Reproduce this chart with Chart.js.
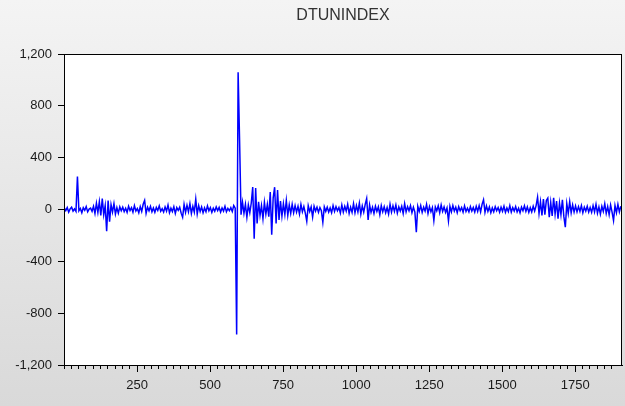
<!DOCTYPE html>
<html>
<head>
<meta charset="utf-8">
<script src="https://cdn.jsdelivr.net/npm/chart.js@4.4.1/dist/chart.umd.min.js"></script>
<style>
body{margin:0;background:#f0f0f0;}
canvas{display:block;}
</style>
</head>
<body>
<canvas id="dtChart" width="625" height="406"></canvas>
<script>
const chartTitle = "DTUNINDEX";

// observations: first obs and spacing between the read-off values
const firstObs = 1;
const obsStep = 5;

const dtunindex = [
12,-8,15,-20,5,18,-12,4,-15,255,-10,8,-25,14,-6,22,-18,3,10,-14,
25,-30,48,-22,60,-45,85,-40,30,-168,70,-95,38,-20,45,-35,15,-28,20,-10,
18,-16,10,-22,25,-8,14,-20,30,-12,8,-25,22,-15,40,70,-30,18,-10,24,
-18,12,-22,16,-8,28,-14,6,-20,20,-12,35,-25,10,-16,22,-30,15,-6,18,
-28,-60,40,-22,32,-18,45,-30,25,-20,80,-35,30,-15,20,-25,12,-18,28,-10,
15,-22,10,-14,20,-8,16,-20,12,-12,25,-18,8,-10,14,-16,30,10,-965,1060,
535,-40,55,-30,40,-60,35,-25,50,173,-225,165,-108,60,-45,30,-70,55,-35,40,
-55,134,-195,90,172,-108,150,-80,65,-50,45,-38,70,-46,35,-30,40,-25,30,-20,
25,-35,40,-18,22,-28,-90,30,-15,20,-58,25,-12,18,-22,15,-10,-98,20,-14,
18,-20,12,-25,30,-15,22,-10,15,-28,35,-20,25,-12,40,-30,18,-22,45,-25,
30,-18,50,-35,28,-20,40,85,-80,35,-22,18,-30,25,-15,20,-40,30,-18,22,
-25,15,-35,40,-20,28,-15,35,-28,20,-12,25,-30,45,-18,22,-10,30,-25,18,
-20,-175,25,-15,30,-22,18,-12,40,-30,22,-18,15,-85,20,-10,28,-25,35,-15,
20,-22,12,-88,25,-18,30,-12,18,-25,22,-10,15,-20,28,-15,10,-18,22,-12,
16,-20,25,-14,30,-18,40,75,-22,28,-15,20,-25,12,-18,22,-10,15,-20,18,
-14,25,-22,12,-16,30,-20,15,-12,22,-18,10,-25,18,-10,28,-15,20,-22,14,
-18,25,-12,30,95,-30,60,-45,80,-40,70,88,-60,55,-50,90,-35,65,-70,50,
-40,75,-55,-137,45,-30,60,-25,35,-20,28,-18,22,-15,30,-25,18,-12,25,-20,
15,-22,30,-18,40,-28,20,-35,25,-15,45,-30,22,-40,35,-20,-85,30,-25,40,
-18,25
];

const xMin = 0;
const xMax = 1910;
const xMinorStep = 25;
const xMajorStep = 250;
const yMin = -1200;
const yMax = 1200;
const yStep = 400;

const points = dtunindex.map((v, i) => ({x: firstObs + i * obsStep, y: v}));

// grey gradient page, white plot area, box round it, long major ticks
const evFrame = {
  id: "evFrame",
  beforeDraw(chart){
    const ctx = chart.ctx;
    const a = chart.chartArea;
    ctx.save();
    const g = ctx.createLinearGradient(0, 0, 0, chart.height);
    g.addColorStop(0, "#f4f4f4");
    g.addColorStop(1, "#d9d9d9");
    ctx.fillStyle = g;
    ctx.fillRect(0, 0, chart.width, chart.height);
    ctx.fillStyle = "#ffffff";
    ctx.fillRect(a.left, a.top, a.right - a.left, a.bottom - a.top);
    ctx.fillStyle = "#333333";
    ctx.font = "16px 'Liberation Sans', Arial, sans-serif";
    ctx.textAlign = "center";
    ctx.textBaseline = "middle";
    ctx.fillText(chartTitle, (a.left + a.right) / 2, 16);
    ctx.restore();
  },
  afterDraw(chart){
    const ctx = chart.ctx;
    const a = chart.chartArea;
    const xs = chart.scales.x;
    ctx.save();
    ctx.strokeStyle = "#000000";
    ctx.lineWidth = 1;
    ctx.strokeRect(a.left + 0.5, a.top + 0.5, a.right - a.left - 1, a.bottom - a.top);
    ctx.beginPath();
    for(let v = xMajorStep; v <= xMax; v += xMajorStep){
      const px = Math.round(xs.getPixelForValue(v)) + 0.5;
      ctx.moveTo(px, a.bottom + 4);
      ctx.lineTo(px, a.bottom + 7);
    }
    ctx.stroke();
    ctx.restore();
  }
};

new Chart(document.getElementById("dtChart"), {
  type: "line",
  data: {
    datasets: [{
      label: chartTitle,
      data: points,
      borderColor: "#0000ff",
      borderWidth: 1.5,
      pointRadius: 0,
      tension: 0,
      fill: false
    }]
  },
  options: {
    responsive: false,
    animation: false,
    layout: {padding: {top: 54, right: 3, left: 0, bottom: 0}},
    plugins: {
      legend: {display: false},
      title: {display: false},
      tooltip: {enabled: false}
    },
    scales: {
      x: {
        type: "linear",
        min: xMin,
        max: xMax,
        afterBuildTicks(scale){
          scale.ticks = scale.ticks.filter(t => t.value % xMinorStep === 0);
        },
        afterFit(scale){ scale.height = 41; },
        ticks: {
          stepSize: xMinorStep,
          autoSkip: false,
          maxRotation: 0,
          padding: 9,
          color: "#1a1a1a",
          font: {family: "'Liberation Sans', Arial, sans-serif", size: 13},
          callback: v => (v > 0 && v % xMajorStep === 0) ? String(v) : ""
        },
        grid: {drawOnChartArea: false, tickLength: 4, color: "#000000"},
        border: {color: "#000000"}
      },
      y: {
        min: yMin,
        max: yMax,
        afterFit(scale){ scale.width = 64; },
        ticks: {
          stepSize: yStep,
          padding: 6,
          color: "#1a1a1a",
          font: {family: "'Liberation Sans', Arial, sans-serif", size: 13},
          callback: v => v.toLocaleString("en-US")
        },
        grid: {drawOnChartArea: false, tickLength: 6, color: "#000000"},
        border: {color: "#000000"}
      }
    }
  },
  plugins: [evFrame]
});
</script>
</body>
</html>
